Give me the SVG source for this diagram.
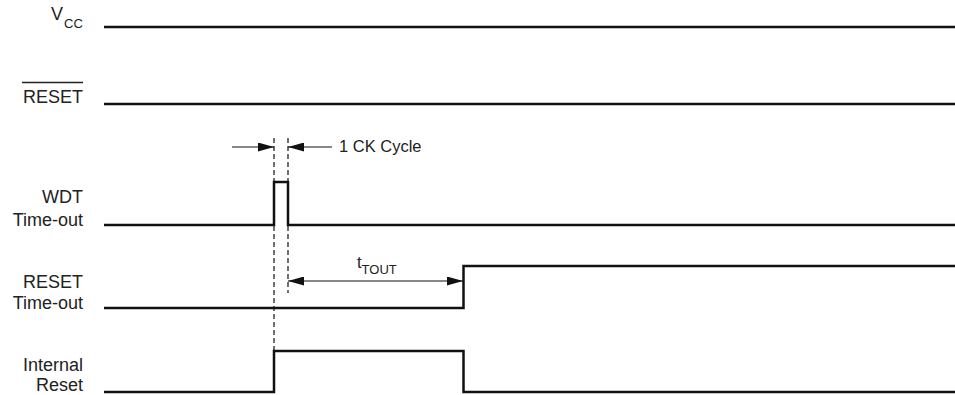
<svg xmlns="http://www.w3.org/2000/svg" width="955" height="395" viewBox="0 0 955 395">
<defs>
<style>
.sig{fill:none;stroke:#111;stroke-width:2.5;stroke-linejoin:miter}
.dash{fill:none;stroke:#111;stroke-width:1.2;stroke-dasharray:5,3}
.arr{fill:none;stroke:#111;stroke-width:1.2}
.lbl{font-family:"Liberation Sans",Arial,sans-serif;font-size:18px;fill:#222;text-anchor:end}
.ann{font-family:"Liberation Sans",Arial,sans-serif;font-size:16.5px;fill:#222}
</style>
<marker id="ah" viewBox="0 0 16 9" refX="16" refY="4.5" markerWidth="16" markerHeight="9" markerUnits="userSpaceOnUse" orient="auto-start-reverse">
<path d="M0,0 L16,4.5 L0,9 Z" fill="#111"/>
</marker>
</defs>
<rect width="955" height="395" fill="#fff"/>
<g id="labels">
<g id="vcc-label"><text class="lbl" x="63" y="20">V</text><text x="64" y="28" font-family="Liberation Sans, Arial, sans-serif" font-size="13" fill="#222">CC</text></g>
<g id="reset-label"><text class="lbl" x="83" y="103">RESET</text><line x1="22" y1="82.5" x2="83" y2="82.5" stroke="#222" stroke-width="1.3"/></g>
<g id="wdt-label"><text class="lbl" x="83" y="203">WDT</text><text class="lbl" x="83" y="226">Time-out</text></g>
<g id="rto-label"><text class="lbl" x="83" y="288">RESET</text><text class="lbl" x="83" y="309">Time-out</text></g>
<g id="ir-label"><text class="lbl" x="83" y="371">Internal</text><text class="lbl" x="83" y="391">Reset</text></g>
</g>
<g id="signals">
<path id="vcc" class="sig" d="M104,27 H955"/>
<path id="reset" class="sig" d="M104,104 H955"/>
<path id="wdt" class="sig" d="M104,225 H274 V182 H288 V225 H955"/>
<path id="rto" class="sig" d="M104,308 H463.5 V266 H955"/>
<path id="ir" class="sig" d="M104,392 H274 V351 H463.5 V392 H955"/>
</g>
<g id="connectors">
<line class="dash" x1="274" y1="138" x2="274" y2="393"/>
<line class="dash" x1="288" y1="138" x2="288" y2="293"/>
<line class="arr" x1="232" y1="147" x2="274" y2="147" marker-end="url(#ah)"/>
<line class="arr" x1="332" y1="147" x2="288" y2="147" marker-end="url(#ah)"/>
<line class="arr" x1="288" y1="281" x2="463" y2="281" marker-start="url(#ah)" marker-end="url(#ah)"/>
</g>
<g id="annotations">
<text class="ann" x="339" y="152">1 CK Cycle</text>
<text class="ann" x="357" y="268">t<tspan font-size="13" dy="6">TOUT</tspan></text>
</g>
</svg>
